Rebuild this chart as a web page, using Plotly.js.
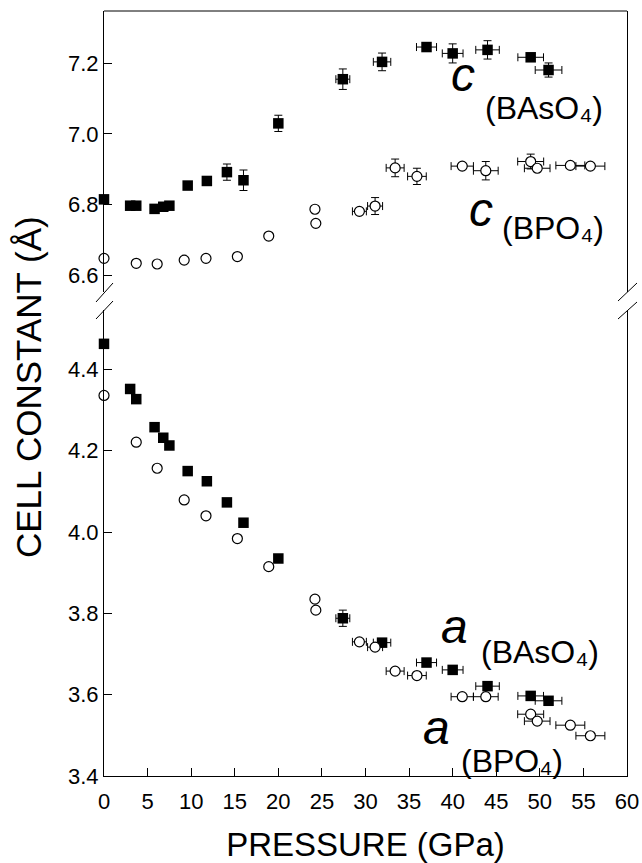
<!DOCTYPE html>
<html>
<head>
<meta charset="utf-8">
<script src="https://cdn.plot.ly/plotly-3.0.1.min.js"></script>
<style>html,body{margin:0;padding:0;background:#fff;}#plot{width:642px;height:863px;}</style>
</head>
<body>
<div id="plot"></div>
<script>
// Pressure (GPa) for BAsO4 samples
const pBAs = [0, 3.0, 3.7, 5.8, 6.8, 7.5, 9.6, 11.8, 14.1, 16.0, 20.0, 27.4, 31.9, 37.0, 40.0, 44.0, 48.95, 51.0];
const pBAsErr = [0, 0, 0, 0, 0, 0, 0, 0, 0, 0, 0, 0.8, 1.0, 1.15, 1.19, 1.35, 1.47, 1.53];
// c axis of BAsO4 (Å)
const cBAs = [6.815, 6.797, 6.797, 6.788, 6.794, 6.797, 6.854, 6.867, 6.892, 6.869, 7.030, 7.155, 7.204, 7.246, 7.228, 7.238, 7.217, 7.181];
const cBAsErr = [0, 0, 0, 0, 0, 0, 0, 0, 0.023, 0.029, 0.023, 0.029, 0.025, 0, 0.027, 0.026, 0, 0.02];
// a axis of BAsO4 (Å)
const aBAs = [4.463, 4.352, 4.327, 4.258, 4.232, 4.213, 4.150, 4.125, 4.073, 4.023, 3.935, 3.788, 3.728, 3.679, 3.661, 3.621, 3.597, 3.585];
const aBAsErr = [0, 0, 0, 0, 0, 0, 0, 0, 0, 0, 0, 0.02, 0, 0, 0, 0, 0, 0];

// Pressure (GPa) for BPO4 samples
const pBP = [0, 3.7, 6.1, 9.2, 11.7, 15.3, 18.9, 24.2, 24.3, 29.3, 31.1, 33.4, 35.9, 41.1, 43.8, 48.95, 49.7, 53.5, 55.8];
const pBPErr = [0, 0, 0, 0, 0, 0, 0, 0, 0, 0.8, 0.86, 1.03, 1.07, 1.28, 1.42, 1.49, 1.47, 1.66, 1.66];
// c axis of BPO4 (Å)
const cBP = [6.648, 6.634, 6.632, 6.643, 6.648, 6.653, 6.711, 6.787, 6.747, 6.781, 6.796, 6.904, 6.880, 6.909, 6.896, 6.922, 6.903, 6.911, 6.909];
const cBPErr = [0, 0, 0, 0, 0, 0, 0, 0, 0, 0, 0.024, 0.025, 0.023, 0, 0.026, 0.021, 0, 0, 0];
// a axis of BPO4 (Å)
const aBP = [4.336, 4.221, 4.157, 4.079, 4.040, 3.984, 3.915, 3.835, 3.808, 3.730, 3.717, 3.658, 3.647, 3.595, 3.595, 3.552, 3.535, 3.525, 3.499];

const xTicks = [0, 5, 10, 15, 20, 25, 30, 35, 40, 45, 50, 55, 60];
const yTicksUpper = [6.6, 6.8, 7.0, 7.2];
const yTicksLower = [3.4, 3.6, 3.8, 4.0, 4.2, 4.4];

const FONT = 'Liberation Sans, Arial, Helvetica, sans-serif';
const filled = {symbol: 'square', size: 10.5, color: '#000', line: {width: 0}};
const open = {symbol: 'circle', size: 10, color: '#fff', line: {width: 1.2, color: '#000'}};
function ex(arr) { return {type: 'data', array: arr, visible: true, color: '#000', thickness: 1, width: 4}; }

const traces = [
  {x: pBAs, y: cBAs, xaxis: 'x', yaxis: 'y2', mode: 'markers', marker: filled, error_x: ex(pBAsErr), error_y: ex(cBAsErr), cliponaxis: false, name: 'c BAsO4'},
  {x: pBP, y: cBP, xaxis: 'x', yaxis: 'y2', mode: 'markers', marker: open, error_x: ex(pBPErr), error_y: ex(cBPErr), cliponaxis: false, name: 'c BPO4'},
  {x: pBAs, y: aBAs, xaxis: 'x', yaxis: 'y', mode: 'markers', marker: filled, error_x: ex(pBAsErr), error_y: ex(aBAsErr), cliponaxis: false, name: 'a BAsO4'},
  {x: pBP, y: aBP, xaxis: 'x', yaxis: 'y', mode: 'markers', marker: open, error_x: ex(pBPErr), cliponaxis: false, name: 'a BPO4'}
];

function px2x(px) { return (px - 104) / 523; }
function py2y(py) { return (776 - py) / 765; }
function seg(x0, y0, x1, y1) {
  return {type: 'line', xref: 'paper', yref: 'paper', x0: px2x(x0), y0: py2y(y0), x1: px2x(x1), y1: py2y(y1), line: {color: '#000', width: 1}};
}

const axisCommon = {
  showline: true, linecolor: '#000', linewidth: 1,
  ticks: 'inside', ticklen: 8, tickwidth: 1, tickcolor: '#000',
  showgrid: false, zeroline: false,
  tickfont: {family: FONT, size: 22, color: '#000'}
};

const italic = {family: FONT, size: 48, color: '#000', style: 'italic'};
const sublabel = {family: FONT, size: 32, color: '#000'};

const layout = {
  width: 642, height: 863,
  margin: {l: 104, r: 15, t: 11, b: 87},
  paper_bgcolor: '#fff', plot_bgcolor: '#fff',
  showlegend: false,
  font: {family: FONT, color: '#000'},
  xaxis: Object.assign({}, axisCommon, {
    range: [0, 60], tickvals: xTicks, ticktext: xTicks.map(String), anchor: 'y', ticklabelstandoff: 6,
    title: {text: 'PRESSURE (GPa)', font: {family: FONT, size: 33, color: '#000'}, standoff: 22}
  }),
  yaxis: Object.assign({}, axisCommon, {
    domain: [0, 0.6085], range: [3.4, 4.545], tickvals: yTicksLower, ticktext: yTicksLower.map(v => v.toFixed(1)),
    anchor: 'x', mirror: true
  }),
  yaxis2: Object.assign({}, axisCommon, {
    domain: [0.6327, 1], range: [6.5528, 7.348], tickvals: yTicksUpper, ticktext: yTicksUpper.map(v => v.toFixed(1)),
    anchor: 'x', mirror: true
  }),
  shapes: [
    {type: 'line', xref: 'paper', yref: 'paper', x0: 0, x1: 1, y0: 1, y1: 1, line: {color: '#000', width: 1}},
    seg(96, 302, 113, 283), seg(96, 319, 113, 301),
    seg(618, 301, 637, 283), seg(618, 319, 637, 302)
  ],
  annotations: [
    {xref: 'paper', yref: 'paper', x: px2x(28), y: py2y(387), text: 'CELL CONSTANT (Å)', textangle: -90, showarrow: false,
     font: {family: FONT, size: 35, color: '#000'}, xanchor: 'center', yanchor: 'middle'},
    {xref: 'x', yref: 'y2', x: 41.2, y: 7.167, text: 'c', showarrow: false, font: italic},
    {xref: 'x', yref: 'y2', x: 50.46, y: 7.074, text: '(BAsO₄)', showarrow: false, font: sublabel},
    {xref: 'x', yref: 'y2', x: 43.3, y: 6.786, text: 'c', showarrow: false, font: italic},
    {xref: 'x', yref: 'y2', x: 51.46, y: 6.735, text: '(BPO₄)', showarrow: false, font: sublabel},
    {xref: 'x', yref: 'y', x: 40.26, y: 3.767, text: 'a', showarrow: false, font: italic},
    {xref: 'x', yref: 'y', x: 50.0, y: 3.705, text: '(BAsO₄)', showarrow: false, font: sublabel},
    {xref: 'x', yref: 'y', x: 38.1, y: 3.519, text: 'a', showarrow: false, font: italic},
    {xref: 'x', yref: 'y', x: 46.8, y: 3.436, text: '(BPO₄)', showarrow: false, font: sublabel}
  ]
};

Plotly.newPlot('plot', traces, layout, {displayModeBar: false, staticPlot: true});
</script>
</body>
</html>
